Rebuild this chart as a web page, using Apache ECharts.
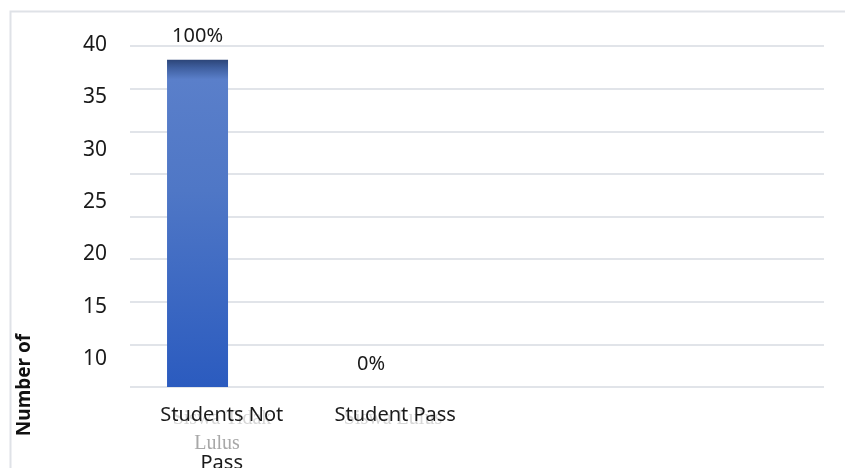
<!DOCTYPE html>
<html>
<head>
<meta charset="utf-8">
<script src="https://cdn.jsdelivr.net/npm/echarts@6/dist/echarts.min.js"></script>
<style>
  html, body { margin: 0; padding: 0; background: #fff; }
  #chart { width: 845px; height: 468px; }
</style>
</head>
<body>
<div id="chart"></div>
<script>
// data
const categories = ['Students Not Pass', 'Student Pass', '', ''];
const axisLabelText = ['Students Not\n\nPass', 'Student Pass', '', ''];
const studentCounts = [38.4, 0, null, null];
const percentLabels = ['100%', '0%', '', ''];
const spacerValues = [null, null, null, null]; // empty 2nd series of the source chart
const tickLabels = [10, 15, 20, 25, 30, 35, 40];

const myChart = echarts.init(document.getElementById('chart'));

const barGradient = new echarts.graphic.LinearGradient(0, 0, 0, 1, [
  { offset: 0, color: '#2c4578' },
  { offset: 0.025, color: '#3f5f9f' },
  { offset: 0.06, color: '#5a7fca' },
  { offset: 0.4, color: '#4f77c6' },
  { offset: 1, color: '#2b5bbf' }
]);

const option = {
  backgroundColor: '#fff',
  animation: false,
  textStyle: { fontFamily: 'Noto Sans' },
  grid: [
    { left: 130, right: 21, top: 46, bottom: 81, containLabel: false, outerBoundsMode: 'none' },
    { left: 115, right: 21, top: 45, bottom: 4, containLabel: false, outerBoundsMode: 'none' }
  ],
  xAxis: [
    {
      type: 'category',
      gridIndex: 0,
      data: categories,
      axisLine: { show: false },
      axisTick: { show: false },
      axisLabel: {
        interval: 0,
        margin: 16,
        fontSize: 20,
        lineHeight: 24,
        padding: [0, 0, 0, 10],
        color: '#1a1a1a',
        formatter: function (value, idx) {
          return axisLabelText[idx];
        }
      }
    },
    { type: 'value', gridIndex: 1, show: false }
  ],
  yAxis: [
    {
      type: 'value',
      gridIndex: 0,
      min: 0,
      max: 40,
      interval: 5,
      axisLine: { show: false },
      axisTick: { show: false },
      axisLabel: { show: false },
      splitLine: { show: true, lineStyle: { color: '#e1e4e9', width: 2 } }
    },
    {
      type: 'value',
      gridIndex: 1,
      min: 0,
      max: 40,
      interval: 5,
      axisLine: { show: false },
      axisTick: { show: false },
      splitLine: { show: false },
      axisLabel: {
        margin: 8,
        fontSize: 21,
        color: '#1a1a1a',
        formatter: function (v) {
          return tickLabels.indexOf(v) >= 0 ? String(v) : '';
        }
      }
    }
  ],
  series: [
    {
      name: 'Number of Students',
      type: 'bar',
      xAxisIndex: 0,
      yAxisIndex: 0,
      data: studentCounts,
      barWidth: 61,
      barGap: '-37%',
      itemStyle: { color: barGradient },
      label: {
        show: true,
        position: 'top',
        distance: 13,
        fontSize: 20,
        color: '#1a1a1a',
        formatter: function (p) {
          return percentLabels[p.dataIndex];
        }
      }
    },
    {
      name: 'spacer',
      type: 'bar',
      xAxisIndex: 0,
      yAxisIndex: 0,
      data: spacerValues,
      barWidth: 61,
      barGap: '-37%'
    }
  ],
  graphic: [
    {
      type: 'rect',
      z: -10,
      shape: { x: 10.5, y: 11.5, width: 900, height: 600 },
      style: { fill: null, stroke: '#dfe2e7', lineWidth: 2 }
    },
    {
      type: 'text',
      z: -5,
      x: 222, y: 419,
      style: {
        text: 'Siswa Tidak', fontFamily: 'Liberation Serif', fontSize: 20,
        fill: '#d6d6d6', align: 'center', verticalAlign: 'middle'
      }
    },
    {
      type: 'text',
      z: -5,
      x: 393, y: 419,
      style: {
        text: 'Siswa Lulus', fontFamily: 'Liberation Serif', fontSize: 20,
        fill: '#d6d6d6', align: 'center', verticalAlign: 'middle'
      }
    },
    {
      type: 'text',
      x: 217, y: 444,
      style: {
        text: 'Lulus', fontFamily: 'Liberation Serif', fontSize: 20,
        fill: '#a8a8a8', align: 'center', verticalAlign: 'middle'
      }
    },
    {
      type: 'text',
      x: 25, y: 385,
      rotation: Math.PI / 2,
      style: {
        text: 'Number of', fontFamily: 'Noto Sans', fontWeight: 'bold', fontSize: 19,
        fill: '#111', align: 'center', verticalAlign: 'middle'
      }
    }
  ]
};

myChart.setOption(option);
window.onresize = myChart.resize;
</script>
</body>
</html>
